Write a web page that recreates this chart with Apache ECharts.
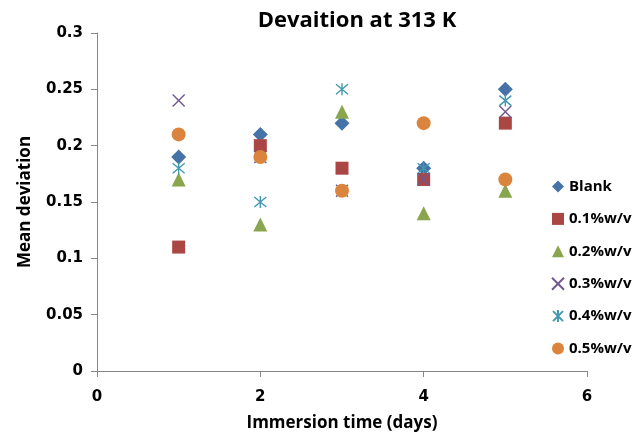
<!DOCTYPE html>
<html>
<head>
<meta charset="utf-8">
<script src="https://cdn.jsdelivr.net/npm/echarts@6/dist/echarts.min.js"></script>
<style>html,body{margin:0;padding:0;background:#fff;}#chart{width:644px;height:435px;}</style>
</head>
<body>
<div id="chart"></div>
<script>
// Immersion time in days
var days = [1, 2, 3, 4, 5];
// Mean deviation per inhibitor concentration
var blank = [0.19, 0.21, 0.22, 0.18, 0.25];
var c01 = [0.11, 0.20, 0.18, 0.17, 0.22];
var c02 = [0.17, 0.13, 0.23, 0.14, 0.16];
var c03 = [0.24, 0.19, 0.16, 0.17, 0.23];
var c04 = [0.18, 0.15, 0.25, 0.18, 0.24];
var c05 = [0.21, 0.19, 0.16, 0.22, 0.17];
var seriesNames = ['Blank', '0.1%w/v', '0.2%w/v', '0.3%w/v', '0.4%w/v', '0.5%w/v'];

var crossPath = 'path://M0 0L10 10M10 0L0 10';
var starPath = 'path://M0 0L10 10M10 0L0 10M5 -1L5 11';

function pts(vals) { return days.map(function (d, i) { return [d, vals[i]]; }); }

var styles = [
  { symbol: 'diamond', size: 15, itemStyle: { color: '#4572A7', opacity: 1 } },
  { symbol: 'rect', size: 13, itemStyle: { color: '#AA4643', opacity: 1 } },
  { symbol: 'triangle', size: 14, itemStyle: { color: '#89A54E', opacity: 1 } },
  { symbol: crossPath, size: 12, itemStyle: { color: 'rgba(0,0,0,0)', borderColor: '#71588F', borderWidth: 1.4, opacity: 1 } },
  { symbol: starPath, size: 12, itemStyle: { color: 'rgba(0,0,0,0)', borderColor: '#4198AF', borderWidth: 1.4, opacity: 1 } },
  { symbol: 'circle', size: 14, itemStyle: { color: '#DB843D', opacity: 1 } }
];
var values = [blank, c01, c02, c03, c04, c05];

var series = seriesNames.map(function (n, k) {
  return {
    name: n,
    type: 'scatter',
    data: pts(values[k]),
    symbol: styles[k].symbol,
    symbolSize: styles[k].size,
    itemStyle: styles[k].itemStyle,
    emphasis: { disabled: true },
    z: 2 + k
  };
});

var chart = echarts.init(document.getElementById('chart'), null, { renderer: 'canvas' });
chart.setOption({
  animation: false,
  backgroundColor: '#fff',
  title: {
    text: 'Devaition at 313 K',
    left: 352, top: 5, textAlign: 'center',
    textStyle: { fontFamily: 'Open Sans', fontWeight: 'bold', fontSize: 22, color: '#000' }
  },
  grid: { left: 97, right: 57, top: 33, bottom: 64, containLabel: false, outerBoundsMode: 'none' },
  legend: {
    orient: 'vertical', left: 551, top: 179, padding: 0,
    itemWidth: 12, itemHeight: 12, itemGap: 17.4,
    textStyle: { fontFamily: 'Open Sans', fontWeight: 'bold', fontSize: 15, color: '#000' },
    data: seriesNames
  },
  xAxis: {
    type: 'value', min: 0, max: 6, interval: 2,
    name: 'Immersion time (days)', nameLocation: 'middle', nameGap: 44,
    nameTextStyle: { fontFamily: 'Open Sans', fontWeight: 'bold', fontSize: 17, color: '#000' },
    axisLine: { show: true, lineStyle: { color: '#868686', width: 1 } },
    axisTick: { show: true, length: 6, lineStyle: { color: '#868686' } },
    axisLabel: { fontFamily: 'DejaVu Sans', fontWeight: 'bold', fontSize: 15, color: '#000', margin: 19 },
    splitLine: { show: false }
  },
  yAxis: {
    type: 'value', min: 0, max: 0.3, interval: 0.05,
    name: 'Mean deviation', nameLocation: 'middle', nameGap: 63, nameRotate: 90,
    nameTextStyle: { fontFamily: 'Open Sans', fontWeight: 'bold', fontSize: 17, color: '#000' },
    axisLine: { show: true, lineStyle: { color: '#868686', width: 1 } },
    axisTick: { show: true, length: 6, lineStyle: { color: '#868686' } },
    axisLabel: { fontFamily: 'DejaVu Sans', fontWeight: 'bold', fontSize: 15, color: '#000', margin: 14 },
    splitLine: { show: false }
  },
  series: series
});
</script>
</body>
</html>
